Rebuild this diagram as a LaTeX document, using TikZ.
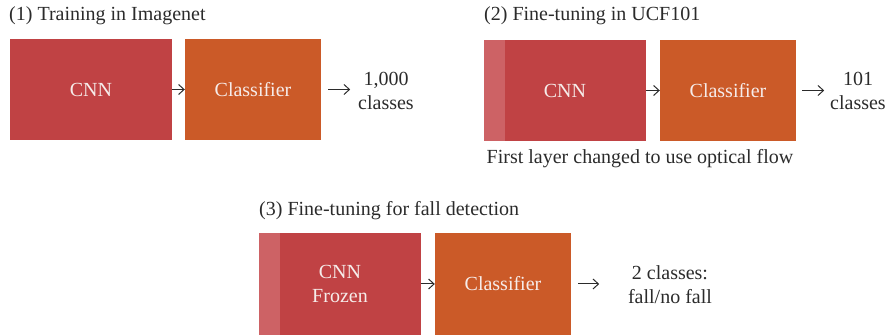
\documentclass[tikz,border=0pt]{standalone}
\usepackage{fontspec}
\setmainfont{Liberation Serif}
\usetikzlibrary{arrows.meta}
\definecolor{cnnred}{HTML}{C04244}
\definecolor{clsorange}{HTML}{CB5A28}
\definecolor{stripred}{HTML}{CD6265}
\definecolor{boxtext}{HTML}{F6ECEA}
\definecolor{ink}{HTML}{2B2B2B}
\begin{document}
\begin{tikzpicture}[x=1pt, y=1pt,
  every node/.style={font=\fontsize{20}{24}\selectfont, text=ink},
  cnnbox/.style={fill=cnnred, minimum width=162pt, minimum height=101pt, inner sep=0pt, align=center, text=boxtext},
  clsbox/.style={fill=clsorange, minimum width=136pt, minimum height=101pt, inner sep=0pt, text=boxtext},
  outtext/.style={align=center, inner sep=0pt},
  flow/.style={-{Straight Barb[length=5.5pt, width=10pt, line width=1pt]}, line width=1pt, ink}]
  \useasboundingbox (0,0) rectangle (892,336);
  % (1) imagenet
  \node[anchor=west, inner sep=0pt] (t1) at (9,320) {(1) Training in Imagenet};
  \node[cnnbox] (cnn1) at (91,246.5) {CNN};
  \node[clsbox] (cls1) at (253,246.5) {Classifier};
  \node[outtext] (out1) at (386,245) {1,000\\classes};
  \coordinate (e1) at ([xshift=29pt]cls1.east);
  \draw[flow] (cnn1) -- (cls1);
  \draw[flow, shorten <=7pt] (cls1) -- (e1);
  % (2) ucf101
  \node[anchor=west, inner sep=0pt] (t2) at (484,320) {(2) Fine-tuning in UCF101};
  \node[cnnbox] (cnn2) at (565,245.5) {};
  \fill[stripred] (cnn2.north west) rectangle ++(21,-101);
  \node at (cnn2) [text=boxtext] {CNN};
  \node[clsbox] (cls2) at (728,245.5) {Classifier};
  \node[outtext] (out2) at (858,245) {101\\classes};
  \coordinate (e2) at ([xshift=28pt]cls2.east);
  \draw[flow] (cnn2) -- (cls2);
  \draw[flow, shorten <=6pt] (cls2) -- (e2);
  \node (note2) at (640,177) {First layer changed to use optical flow};
  % (3) fall detection
  \node[anchor=west, inner sep=0pt] (t3) at (259,125) {(3) Fine-tuning for fall detection};
  \node[cnnbox, minimum height=102pt] (cnn3) at (340,52) {};
  \fill[stripred] (cnn3.north west) rectangle ++(21,-102);
  \node at (cnn3) [align=center, text=boxtext] {CNN\\Frozen};
  \node[clsbox, minimum height=102pt] (cls3) at (503,52) {Classifier};
  \node[outtext] (out3) at (670,51) {2 classes:\\fall/no fall};
  \coordinate (e3) at ([xshift=28pt]cls3.east);
  \draw[flow] (cnn3) -- (cls3);
  \draw[flow, shorten <=7pt] (cls3) -- (e3);
\end{tikzpicture}
\end{document}
